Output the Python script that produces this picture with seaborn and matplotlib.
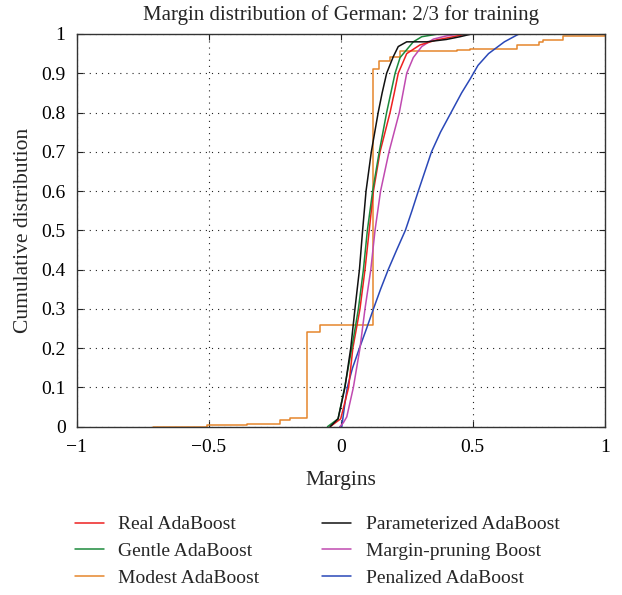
import numpy as np
import pandas as pd
import matplotlib
matplotlib.use("Agg")
import matplotlib.pyplot as plt
import seaborn as sns

# Empirical cumulative distributions of training margins (German, 2/3 for training)
real_x = [-0.04, 0.00, 0.030, 0.046, 0.073, 0.092, 0.108, 0.124, 0.149, 0.187, 0.203, 0.218, 0.250, 0.300, 0.364, 0.427, 0.477]
real_y = [0.00, 0.02, 0.10, 0.20, 0.30, 0.40, 0.50, 0.60, 0.70, 0.80, 0.85, 0.90, 0.95, 0.972, 0.985, 0.993, 1.00]

gentle_x = [-0.05, -0.01, 0.015, 0.042, 0.067, 0.086, 0.101, 0.121, 0.146, 0.174, 0.190, 0.206, 0.225, 0.250, 0.275, 0.307, 0.370]
gentle_y = [0.00, 0.02, 0.10, 0.20, 0.30, 0.40, 0.50, 0.60, 0.70, 0.80, 0.85, 0.90, 0.94, 0.96, 0.98, 0.993, 1.00]

modest_x = [-0.71, -0.508, -0.356, -0.230, -0.192, -0.126, -0.078, 0.121, 0.146, 0.187, 0.225, 0.440, 0.490, 0.667, 0.750, 0.766, 0.842, 1.00]
modest_y = [0.000, 0.004, 0.008, 0.017, 0.023, 0.242, 0.258, 0.911, 0.930, 0.941, 0.957, 0.960, 0.962, 0.971, 0.980, 0.984, 0.994, 1.000]

param_x = [-0.04, -0.01, 0.016, 0.038, 0.054, 0.071, 0.083, 0.096, 0.116, 0.142, 0.157, 0.174, 0.199, 0.218, 0.250, 0.326, 0.400, 0.452, 0.496]
param_y = [0.00, 0.02, 0.10, 0.20, 0.30, 0.40, 0.50, 0.60, 0.70, 0.80, 0.85, 0.90, 0.942, 0.968, 0.980, 0.980, 0.986, 0.993, 1.00]

pruning_x = [-0.003, 0.010, 0.023, 0.048, 0.073, 0.092, 0.114, 0.130, 0.151, 0.183, 0.222, 0.236, 0.250, 0.275, 0.307, 0.351, 0.400, 0.452]
pruning_y = [0.00, 0.01, 0.025, 0.10, 0.20, 0.30, 0.40, 0.50, 0.60, 0.70, 0.80, 0.85, 0.90, 0.94, 0.968, 0.987, 0.995, 1.00]

penal_x = [-0.003, 0.004, 0.014, 0.025, 0.045, 0.071, 0.098, 0.124, 0.151, 0.180, 0.212, 0.245, 0.270, 0.294, 0.319, 0.344, 0.378, 0.418, 0.458, 0.490, 0.520, 0.560, 0.620, 0.675]
penal_y = [0.00, 0.00, 0.05, 0.10, 0.15, 0.20, 0.25, 0.30, 0.35, 0.40, 0.45, 0.50, 0.55, 0.60, 0.65, 0.70, 0.75, 0.80, 0.85, 0.885, 0.92, 0.95, 0.98, 1.00]

labels = ["Real AdaBoost", "Gentle AdaBoost", "Modest AdaBoost",
          "Parameterized AdaBoost", "Margin-pruning Boost", "Penalized AdaBoost"]
colors = ["#ee2020", "#1c8a3c", "#e5862c", "#111111", "#c04ab0", "#2a48b8"]

x_ticks = [-1, -0.5, 0, 0.5, 1]
x_tick_labels = ["\u22121", "\u22120.5", "0", "0.5", "1"]
y_ticks = [0, 0.1, 0.2, 0.3, 0.4, 0.5, 0.6, 0.7, 0.8, 0.9, 1]
y_tick_labels = ["0", "0.1", "0.2", "0.3", "0.4", "0.5", "0.6", "0.7", "0.8", "0.9", "1"]

series = [(real_x, real_y), (gentle_x, gentle_y), (modest_x, modest_y),
          (param_x, param_y), (pruning_x, pruning_y), (penal_x, penal_y)]

sns.set_style("ticks")
plt.rcParams["font.family"] = ["Liberation Serif", "DejaVu Serif"]
plt.rcParams["axes.unicode_minus"] = True

fig = plt.figure(figsize=(6.22, 5.95), dpi=100)
ax = fig.add_axes([0.1233, 0.2829, 0.8489, 0.66])

# draw order: step curve of Modest AdaBoost first, smooth curves on top
order = [2, 5, 4, 0, 1, 3]
handles = {}
for i in order:
    xs, ys = series[i]
    df = pd.DataFrame({"margin": xs, "cdf": ys})
    sns.lineplot(data=df, x="margin", y="cdf", ax=ax, color=colors[i],
                 linewidth=1.1, estimator=None, sort=False,
                 drawstyle="steps-post" if i == 2 else "default")
    handles[i] = ax.lines[-1]

ax.set_xlim(-1, 1)
ax.set_ylim(0, 1)
ax.set_xticks(x_ticks)
ax.set_xticklabels(x_tick_labels)
ax.set_yticks(y_ticks)
ax.set_yticklabels(y_tick_labels)
ax.tick_params(direction="in", top=True, right=True, length=4, width=0.8,
               labelsize=14, colors="#222222")
ax.tick_params(axis="x", pad=9)
ax.tick_params(axis="y", pad=8)
for lab in ax.get_xticklabels() + ax.get_yticklabels():
    lab.set_color("black")
ax.grid(True, color="#222222", linestyle=(0, (1, 4.5)), linewidth=0.8)
for s in ax.spines.values():
    s.set_color("#333333")
    s.set_linewidth(1.0)
ax.set_xlabel("Margins", fontsize=15.5, labelpad=11)
ax.set_ylabel("Cumulative distribution", fontsize=15.5, labelpad=6)
ax.set_title("Margin distribution of German: 2/3 for training", fontsize=15, pad=10)

fig.legend([handles[i] for i in range(6)], labels, loc="upper left",
           bbox_to_anchor=(0.092, 0.1625), ncol=2, frameon=False, fontsize=14,
           handlelength=1.5, handletextpad=0.75, columnspacing=3.2,
           labelspacing=0.47)

fig.savefig("out.png", dpi=100)
